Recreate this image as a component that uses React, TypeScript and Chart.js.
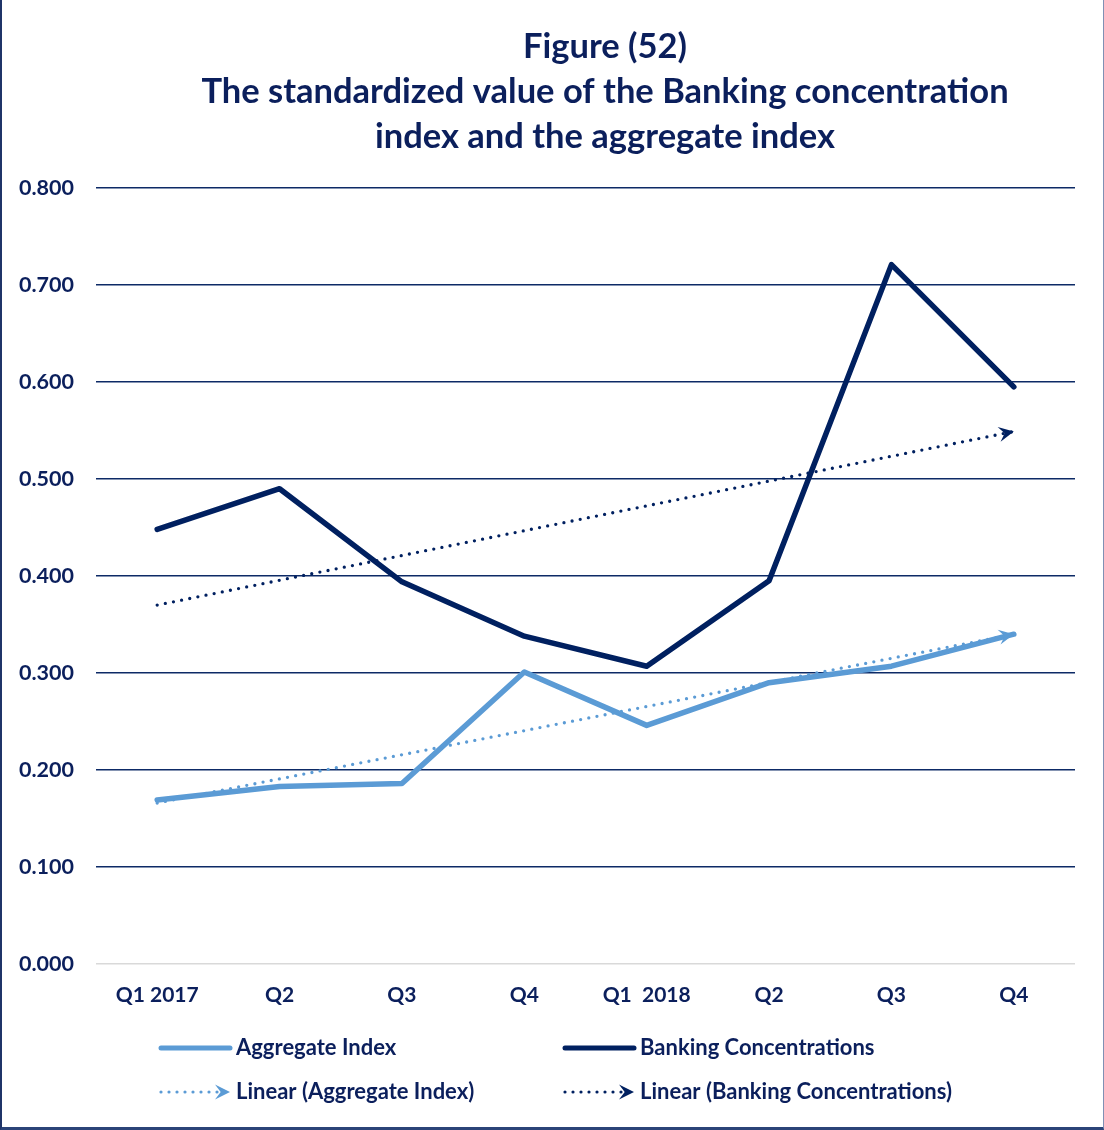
import React, { useEffect, useRef } from "react";
import { Chart, registerables } from "chart.js";

Chart.register(...registerables);

const quarterLabels = ["Q1 2017", "Q2", "Q3", "Q4", "Q1  2018", "Q2", "Q3", "Q4"];
const aggregateIndex = [0.169, 0.183, 0.186, 0.301, 0.246, 0.29, 0.307, 0.34];
const bankingConcentrations = [0.448, 0.49, 0.394, 0.338, 0.307, 0.395, 0.721, 0.595];
// Linear trend lines: start and end values on the first and last quarter
const aggregateTrend = [0.166, null, null, null, null, null, null, 0.34];
const bankingTrend = [0.37, null, null, null, null, null, null, 0.549];
const yTicks = [0, 0.1, 0.2, 0.3, 0.4, 0.5, 0.6, 0.7, 0.8];

const titleLines = [
  "Figure (52)",
  "The standardized value of the Banking concentration",
  "index and the aggregate index",
];

const NAVY = "#002060";
const LIGHT_BLUE = "#5B9BD5";
const TEXT = "#0b1f5c";
const FONT = "Lato";

function drawArrowHead(ctx: CanvasRenderingContext2D, x: number, y: number, angle: number, color: string, size: number) {
  ctx.save();
  ctx.translate(x, y);
  ctx.rotate(angle);
  ctx.fillStyle = color;
  ctx.beginPath();
  ctx.moveTo(0, 0);
  ctx.lineTo(-size, -size * 0.5);
  ctx.lineTo(-size * 0.62, 0);
  ctx.lineTo(-size, size * 0.5);
  ctx.closePath();
  ctx.fill();
  ctx.restore();
}

const trendArrows = {
  id: "trendArrows",
  afterDatasetsDraw(chart: any) {
    const ctx = chart.ctx as CanvasRenderingContext2D;
    chart.data.datasets.forEach((ds: any, i: number) => {
      if (!ds.isTrend) return;
      const meta = chart.getDatasetMeta(i);
      const pts = meta.data.filter((_p: any, j: number) => ds.data[j] !== null);
      if (pts.length < 2) return;
      const a = pts[0];
      const b = pts[pts.length - 1];
      const ang = Math.atan2(b.y - a.y, b.x - a.x);
      drawArrowHead(ctx, b.x, b.y, ang, ds.borderColor, 15);
    });
  },
};

const figureTitle = {
  id: "figureTitle",
  afterDraw(chart: any) {
    const ctx = chart.ctx as CanvasRenderingContext2D;
    ctx.save();
    ctx.fillStyle = TEXT;
    ctx.font = `bold 34.5px ${FONT}`;
    ctx.textAlign = "center";
    ctx.textBaseline = "middle";
    const cx = 603;
    titleLines.forEach((line, i) => {
      ctx.fillText(line, cx, 47 + i * 45);
    });
    ctx.restore();
  },
};

const customLegend = {
  id: "customLegend",
  afterDraw(chart: any) {
    const ctx = chart.ctx as CanvasRenderingContext2D;
    const ds = chart.data.datasets;
    const slots = [
      { x: 156, y: 1048 },
      { x: 560, y: 1048 },
      { x: 156, y: 1092 },
      { x: 560, y: 1092 },
    ];
    ctx.save();
    ds.forEach((d: any, i: number) => {
      const s = slots[i];
      if (!s) return;
      const x0 = s.x + 3;
      const x1 = s.x + 72;
      ctx.strokeStyle = d.borderColor;
      ctx.lineCap = "round";
      if (d.isTrend) {
        ctx.lineWidth = 3.2;
        ctx.setLineDash([0, 8]);
        ctx.beginPath();
        ctx.moveTo(x0, s.y);
        ctx.lineTo(x1 - 10, s.y);
        ctx.stroke();
        ctx.setLineDash([]);
        drawArrowHead(ctx, x1, s.y, 0, d.borderColor, 15);
      } else {
        ctx.lineWidth = 5;
        ctx.beginPath();
        ctx.moveTo(x0, s.y);
        ctx.lineTo(x1, s.y);
        ctx.stroke();
      }
      ctx.fillStyle = TEXT;
      ctx.font = `bold 22px ${FONT}`;
      ctx.textAlign = "left";
      ctx.textBaseline = "middle";
      ctx.fillText(d.label, s.x + 78, s.y);
    });
    ctx.restore();
  },
};

export default function App() {
  const canvasRef = useRef<HTMLCanvasElement | null>(null);

  useEffect(() => {
    if (!canvasRef.current) return;
    const chart = new Chart(canvasRef.current, {
      type: "line",
      data: {
        labels: quarterLabels,
        datasets: [
          {
            label: "Aggregate Index",
            data: aggregateIndex,
            borderColor: LIGHT_BLUE,
            backgroundColor: LIGHT_BLUE,
            borderWidth: 5.5,
            borderCapStyle: "round",
            borderJoinStyle: "round",
            pointRadius: 0,
            tension: 0,
            order: 3,
          },
          {
            label: "Banking Concentrations",
            data: bankingConcentrations,
            borderColor: NAVY,
            backgroundColor: NAVY,
            borderWidth: 5.5,
            borderCapStyle: "round",
            borderJoinStyle: "round",
            pointRadius: 0,
            tension: 0,
            order: 4,
          },
          {
            label: "Linear (Aggregate Index)",
            data: aggregateTrend,
            borderColor: LIGHT_BLUE,
            backgroundColor: LIGHT_BLUE,
            borderWidth: 3.3,
            borderDash: [0, 8.3],
            borderCapStyle: "round",
            pointRadius: 0,
            spanGaps: true,
            isTrend: true,
            order: 1,
          },
          {
            label: "Linear (Banking Concentrations)",
            data: bankingTrend,
            borderColor: NAVY,
            backgroundColor: NAVY,
            borderWidth: 3.3,
            borderDash: [0, 8.3],
            borderCapStyle: "round",
            pointRadius: 0,
            spanGaps: true,
            isTrend: true,
            order: 2,
          },
        ] as any,
      },
      options: {
        animation: false,
        responsive: true,
        maintainAspectRatio: false,
        layout: { padding: { top: 188, right: 28, bottom: 103, left: 0 } },
        plugins: {
          legend: { display: false },
          title: { display: false },
          tooltip: { enabled: false },
        },
        scales: {
          x: {
            offset: true,
            grid: { display: false, drawTicks: false },
            border: { display: false },
            ticks: {
              color: TEXT,
              font: { family: FONT, weight: "bold", size: 21 },
              padding: 19,
              maxRotation: 0,
              autoSkip: false,
            },
            afterFit: (scale: any) => {
              scale.height = 60;
            },
          },
          y: {
            min: 0,
            max: 0.8,
            afterBuildTicks: (scale: any) => {
              scale.ticks = yTicks.map((v) => ({ value: v }));
            },
            grid: {
              drawTicks: false,
              lineWidth: 1.6,
              color: (c: any) => (c.tick && c.tick.value === 0 ? "#d9d9d9" : "#0d2a66"),
            },
            border: { display: false },
            ticks: {
              color: TEXT,
              font: { family: FONT, weight: "bold", size: 21.5 },
              padding: 22,
              callback: (v: any) => Number(v).toFixed(3),
            },
            afterFit: (scale: any) => {
              scale.width = 94;
            },
          },
        },
      },
      plugins: [trendArrows, figureTitle, customLegend],
    });
    return () => chart.destroy();
  }, []);

  return (
    <div
      style={{
        position: "absolute",
        left: 0,
        top: 0,
        width: 1104,
        height: 1130,
        boxSizing: "border-box",
        borderLeft: "2px solid #1f3468",
        borderRight: "1px solid #8090b4",
        borderBottom: "3px solid #2b4478",
        background: "#ffffff",
      }}
    >
      <div style={{ position: "relative", width: "100%", height: "100%" }}>
        <canvas ref={canvasRef} />
      </div>
    </div>
  );
}
